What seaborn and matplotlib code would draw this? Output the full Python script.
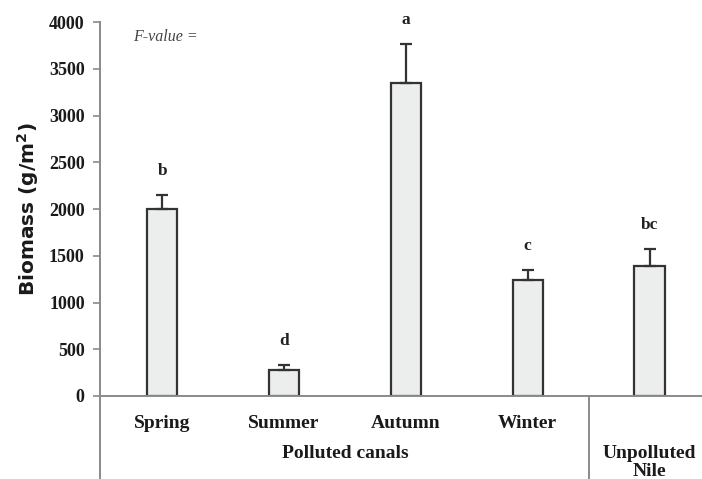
import matplotlib
matplotlib.use("Agg")
import matplotlib.pyplot as plt
import seaborn as sns
import pandas as pd
import numpy as np

categories = ["Spring", "Summer", "Autumn", "Winter", "Unpolluted"]
tick_labels = ["Spring", "Summer", "Autumn", "Winter", ""]
biomass = [2000, 275, 3350, 1240, 1390]
errors = [150, 55, 415, 105, 180]
letters = ["b", "d", "a", "c", "bc"]
group_labels = ["Polluted canals", "Unpolluted\nNile"]

sns.set_style("white")
plt.rcParams["font.family"] = ["Liberation Serif", "DejaVu Serif"]

fig = plt.figure(figsize=(7.02, 4.79), dpi=100)
ax = fig.add_axes([100/702, (479-396)/479, 602/702, 374/479])

df = pd.DataFrame({"cat": categories, "val": biomass})
sns.barplot(data=df, x="cat", y="val", color="#ECEDED", edgecolor="#333333",
            linewidth=1.6, width=0.25, ax=ax, saturation=1)
ax.errorbar(np.arange(len(biomass)), biomass, yerr=[np.zeros(len(errors)), errors],
            fmt="none", ecolor="#333333", elinewidth=1.6, capsize=4, capthick=1.6)

for i, (v, e, l) in enumerate(zip(biomass, errors, letters)):
    ax.text(i, v + e + 170, l, ha="center", va="bottom", fontsize=12.5,
            fontweight="bold", color="#222222")

ax.set_ylim(0, 4000)
ax.set_xlim(-0.51, 4.43)
ax.set_yticks(range(0, 4001, 500))
ax.set_yticklabels([str(t) for t in range(0, 4001, 500)], fontsize=13,
                   fontweight="bold", color="#1a1a1a")
ax.set_xticks(range(len(categories)))
ax.set_xticklabels(tick_labels, fontsize=14, fontweight="bold", color="#1a1a1a")
ax.tick_params(axis="x", length=0, pad=14)
ax.tick_params(axis="y", length=5, width=1.2, color="#8a8a8a", direction="out", pad=6, left=True)
ax.set_xlabel("")
ax.set_ylabel("Biomass (g/m$^\\mathbf{2}$)", fontsize=14.5, fontweight="bold",
              family="DejaVu Sans", color="#1a1a1a", labelpad=6)

for s in ["top", "right"]:
    ax.spines[s].set_visible(False)
for s in ["left", "bottom"]:
    ax.spines[s].set_color("#8a8a8a")
    ax.spines[s].set_linewidth(1.4)

# lines below the axis
ax.plot([-0.51, -0.51], [0, -900], color="#8a8a8a", lw=1.4, clip_on=False)
ax.plot([3.5, 3.5], [0, -900], color="#8a8a8a", lw=1.4, clip_on=False)

ax.text(1.5, -610, group_labels[0], ha="center", va="center", fontsize=14,
        fontweight="bold", color="#1a1a1a")
ax.text(4.0, -525, group_labels[1], ha="center", va="top", fontsize=14,
        fontweight="bold", color="#1a1a1a", linespacing=1.1)

ax.text(-0.24, 3840, "F-value =", fontsize=11.5, style="italic", color="#444444",
        ha="left", va="center")

fig.savefig("out.png", dpi=100)
